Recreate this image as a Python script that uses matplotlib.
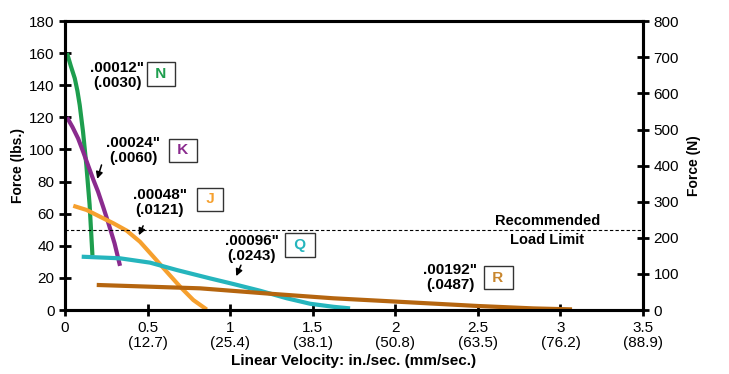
import numpy as np
import matplotlib
matplotlib.use("Agg")
import matplotlib.pyplot as plt

plt.rcParams['font.family'] = ['Liberation Sans', 'DejaVu Sans']

# curves: velocity (in./sec) vs force (lbs.)
n_x = [0.012, 0.035, 0.059, 0.075, 0.089, 0.109, 0.129, 0.149, 0.166]
n_y = [160, 152, 144.3, 136.5, 127.6, 111, 90.3, 65.4, 34]
k_x = [0.012, 0.045, 0.079, 0.109, 0.139, 0.172, 0.200, 0.230, 0.260, 0.300, 0.333]
k_y = [120, 114, 106.9, 98.8, 90.3, 81.0, 73.7, 64.5, 55.0, 41.5, 27.5]
j_x = [0.050, 0.131, 0.212, 0.293, 0.374, 0.454, 0.535, 0.616, 0.697, 0.777, 0.858]
j_y = [64.9, 62.3, 58.1, 54.0, 49.4, 42.5, 33.2, 23.8, 14.5, 6.2, 0.3]
q_x = [0.101, 0.333, 0.515, 0.677, 0.878, 1.019, 1.181, 1.343, 1.484, 1.625, 1.726]
q_y = [33.2, 32.2, 29.5, 24.9, 19.7, 16.2, 12.0, 7.3, 3.9, 2.0, 1.0]
r_x = [0.192, 0.818, 1.221, 1.625, 2.01, 2.5, 2.836, 3.07]
r_y = [15.6, 13.5, 10.3, 7.3, 5.2, 2.5, 1.0, 0.4]

xticks = [0, 0.5, 1, 1.5, 2, 2.5, 3, 3.5]
xlabels = ["0", "0.5\n(12.7)", "1\n(25.4)", "1.5\n(38.1)", "2\n(50.8)",
           "2.5\n(63.5)", "3\n(76.2)", "3.5\n(88.9)"]
load_limit = 50

green = "#1e9e4e"
purple = "#8a2b8e"
orange = "#f6a02e"
cyan = "#25b5bd"
brown = "#b5650f"

fig = plt.figure(figsize=(7.29, 3.74), dpi=100)
ax = fig.add_axes([0.0892, 0.1711, 0.7929, 0.7727])

for xs, ys, c in [(n_x, n_y, green), (k_x, k_y, purple), (j_x, j_y, orange),
                  (q_x, q_y, cyan), (r_x, r_y, brown)]:
    ax.plot(xs, ys, color=c, lw=3, solid_capstyle="butt", solid_joinstyle="round")

ax.axhline(load_limit, color="black", lw=0.8, ls=(0, (3, 2)))

ax.set_xlim(0, 3.5)
ax.set_ylim(0, 180)
ax.set_xticks(xticks)
ax.set_xticklabels(xlabels, fontsize=11, linespacing=1.05)
ax.set_yticks(range(0, 181, 20))
ax.tick_params(axis="both", direction="inout", length=8, width=2, labelsize=11)
ax.tick_params(axis="x", pad=4)
for s in ax.spines.values():
    s.set_linewidth(2.2)

ax.set_xlabel("Linear Velocity: in./sec. (mm/sec.)", fontsize=11, fontweight="bold", labelpad=3)
ax.set_ylabel("Force (lbs.)", fontsize=10, fontweight="bold", labelpad=3)

ax2 = ax.twinx()
ax2.set_ylim(0, 180 * 4.4482)
ax2.set_yticks(range(0, 801, 100))
ax2.tick_params(axis="y", direction="inout", length=8, width=2, labelsize=11)
ax2.set_ylabel("Force (N)", fontsize=10, fontweight="bold", labelpad=6)
for s in ax2.spines.values():
    s.set_linewidth(2.2)

box = dict(boxstyle="square,pad=0.3", fc="white", ec="#333333", lw=1)
labels = [
    (".00012\"\n(.0030)", 0.315, 146, "N", 0.581, 147, green),
    (".00024\"\n(.0060)", 0.412, 99.5, "K", 0.715, 99.5, purple),
    (".00048\"\n(.0121)", 0.575, 67, "J", 0.878, 69, orange),
    (".00096\"\n(.0243)", 1.131, 38.5, "Q", 1.423, 40.5, cyan),
    (".00192\"\n(.0487)", 2.332, 20, "R", 2.623, 20, "#c8862e"),
]
for txt, tx, ty, letter, bx, by, c in labels:
    ax.text(tx, ty, txt, ha="center", va="center", fontsize=11,
            fontweight="bold", linespacing=1.1)
    ax.text(bx, by, " " + letter + " ", ha="center", va="center", fontsize=11,
            fontweight="bold", color=c, bbox=box)

arrows = [((0.226, 92), (0.19, 80)), ((0.48, 54), (0.44, 45)),
          ((1.072, 29.5), (1.03, 19.5))]
for (x0, y0), (x1, y1) in arrows:
    ax.annotate("", xy=(x1, y1), xytext=(x0, y0),
                arrowprops=dict(arrowstyle="-|>", color="black", lw=1.1,
                                mutation_scale=10))

ax.text(2.925, 55.5, "Recommended", ha="center", va="center", fontsize=10.5, fontweight="bold")
ax.text(2.92, 43.5, "Load Limit", ha="center", va="center", fontsize=10.5, fontweight="bold")

fig.savefig("out.png", dpi=100)
